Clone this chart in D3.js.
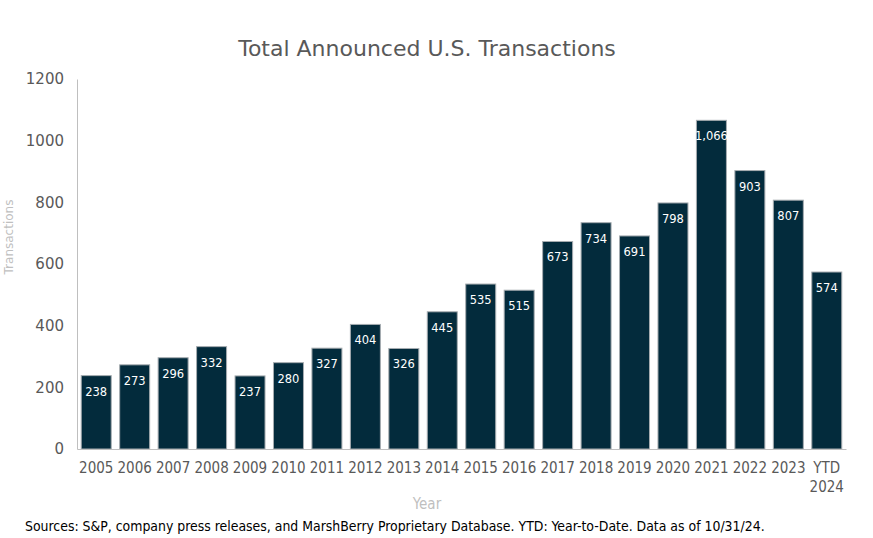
<!DOCTYPE html>
<html>
<head>
<meta charset="utf-8">
<script src="https://cdn.jsdelivr.net/npm/d3@7"></script>
<style>
  body { margin: 0; background: #fff; }
  svg { font-family: "DejaVu Sans", Verdana, sans-serif; }
</style>
</head>
<body>
<svg width="873" height="538"></svg>
<script>
let svg = d3.select("svg");

let years = ["2005", "2006", "2007", "2008", "2009", "2010", "2011", "2012", "2013", "2014",
  "2015", "2016", "2017", "2018", "2019", "2020", "2021", "2022", "2023", "YTD 2024"];
let transactions = [238, 273, 296, 332, 237, 280, 327, 404, 326, 445,
  535, 515, 673, 734, 691, 798, 1066, 903, 807, 574];
let y_ticks = [0, 200, 400, 600, 800, 1000, 1200];

let plot_left = 77, plot_right = 846, plot_top = 79, plot_bottom = 449;

let x_scale = d3.scaleBand()
  .domain(years)
  .range([plot_left, plot_right])
  .paddingInner(0.22)
  .paddingOuter(0.11);
let y_scale = d3.scaleLinear()
  .domain([0, 1200])
  .range([plot_bottom, plot_top]);

// title
svg.append("text")
  .attr("x", 427)
  .attr("y", 56)
  .attr("text-anchor", "middle")
  .attr("fill", "#595959")
  .style("font-size", "22px")
  .text("Total Announced U.S. Transactions");

// y axis
let y_axis = svg.append("g")
  .attr("transform", "translate(" + plot_left + ",0)")
  .call(d3.axisLeft(y_scale).tickValues(y_ticks).tickSize(0).tickPadding(13).tickFormat(d3.format("d")));
y_axis.select(".domain").attr("stroke", "#bfbfbf");
y_axis.selectAll("text")
  .attr("fill", "#595959")
  .style("font-size", "15px")
  .style("font-family", "DejaVu Sans, sans-serif");

// bars
let bars = svg.append("g").selectAll("g.bar")
  .data(transactions)
  .enter().append("g")
    .attr("class", "bar");

bars.append("rect")
  .attr("x", (d, i) => x_scale(years[i]))
  .attr("y", (d) => y_scale(d))
  .attr("width", x_scale.bandwidth())
  .attr("height", (d) => y_scale(0) - y_scale(d))
  .attr("fill", "#032b3c")
  .attr("stroke", "#a6acb0")
  .attr("stroke-width", 1);

bars.append("text")
  .attr("x", (d, i) => x_scale(years[i]) + x_scale.bandwidth() / 2)
  .attr("y", (d) => y_scale(d) + 20)
  .attr("text-anchor", "middle")
  .attr("fill", "#ffffff")
  .style("font-size", "11.5px")
  .text((d) => d3.format(",")(d));

// x axis
let x_axis = svg.append("g")
  .attr("transform", "translate(0," + plot_bottom + ")")
  .call(d3.axisBottom(x_scale).tickSize(0).tickPadding(0));
x_axis.select(".domain").attr("stroke", "#bfbfbf");
x_axis.selectAll("text").remove();
x_axis.selectAll(".tick").each(function(d) {
  let t = d3.select(this).append("text")
    .attr("fill", "#595959")
    .attr("text-anchor", "middle")
    .style("font-size", "15px")
    .style("font-family", "DejaVu Sans Condensed, sans-serif");
  d.split(" ").forEach((part, i) => {
    t.append("tspan").attr("x", 0).attr("y", 24 + i * 19).text(part);
  });
});

// axis titles
svg.append("text")
  .attr("x", 427)
  .attr("y", 509)
  .attr("text-anchor", "middle")
  .attr("fill", "#bfbfbf")
  .style("font-size", "15px")
  .style("font-family", "DejaVu Sans Condensed, sans-serif")
  .text("Year");

svg.append("text")
  .attr("transform", "translate(13,237) rotate(-90)")
  .attr("text-anchor", "middle")
  .attr("fill", "#bfbfbf")
  .style("font-size", "12px")
  .text("Transactions");

// source note
svg.append("text")
  .attr("x", 25)
  .attr("y", 531)
  .attr("fill", "#000")
  .style("font-size", "13.9px")
  .style("font-family", "DejaVu Sans Condensed, sans-serif")
  .text("Sources: S&P, company press releases, and MarshBerry Proprietary Database. YTD: Year-to-Date. Data as of 10/31/24.");
</script>
</body>
</html>
